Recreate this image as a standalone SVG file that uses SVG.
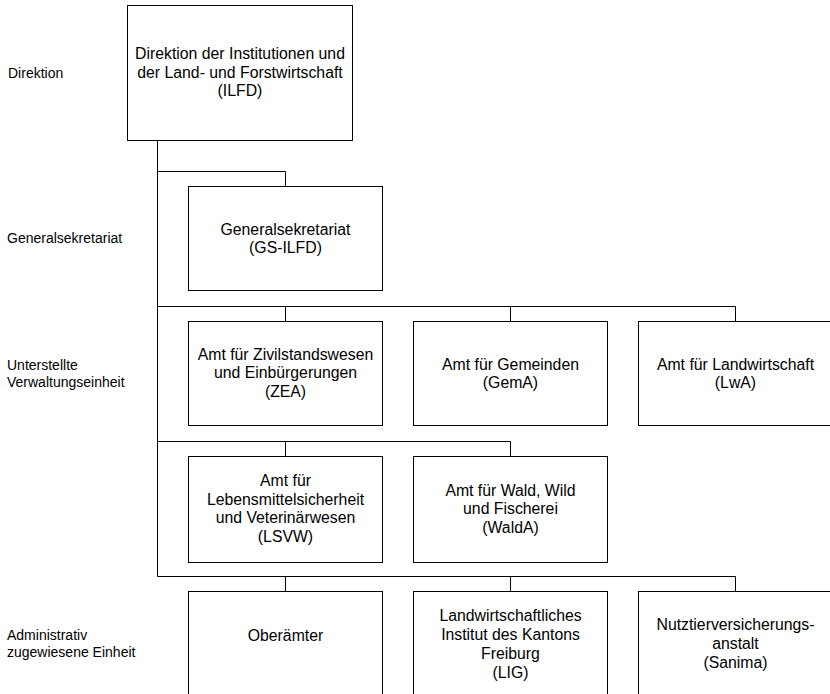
<svg xmlns="http://www.w3.org/2000/svg" width="830" height="694" viewBox="0 0 830 694">
<style>
.box{fill:#fff;stroke:#000;stroke-width:1}
.con{fill:none;stroke:#000;stroke-width:1}
.t{font-family:"Liberation Sans",Arial,sans-serif;font-size:15.8px;fill:#000;text-anchor:middle}
.lbl{font-family:"Liberation Sans",Arial,sans-serif;font-size:14px;fill:#000}
</style>
<rect width="830" height="694" fill="#fff"/>
<g id="labels">
<text class="lbl" x="8" y="78">Direktion</text>
<text class="lbl" x="7" y="243">Generalsekretariat</text>
<text class="lbl" x="7" y="370">Unterstellte</text>
<text class="lbl" x="7" y="387">Verwaltungseinheit</text>
<text class="lbl" x="7" y="640">Administrativ</text>
<text class="lbl" x="7" y="657">zugewiesene Einheit</text>
</g>
<g id="connectors">
<path class="con" d="M157.5 140.5V576.5"/>
<path class="con" d="M157.5 171.5H285.5V186.5"/>
<path class="con" d="M157.5 306.5H735.5V321.5M285.5 306.5V321.5M510.5 306.5V321.5"/>
<path class="con" d="M157.5 441.5H510.5V456.5M285.5 441.5V456.5"/>
<path class="con" d="M157.5 576.5H735.5V591.5M285.5 576.5V591.5M510.5 576.5V591.5"/>
</g>
<g id="ilfd">
<rect class="box" x="127.5" y="5.5" width="225" height="135"/>
<text class="t" x="240" y="59">Direktion der Institutionen und</text>
<text class="t" x="240" y="77.5">der Land- und Forstwirtschaft</text>
<text class="t" x="240" y="96">(ILFD)</text>
</g>
<g id="gs">
<rect class="box" x="188.5" y="186.5" width="194" height="104"/>
<text class="t" x="285.5" y="235">Generalsekretariat</text>
<text class="t" x="285.5" y="253">(GS-ILFD)</text>
</g>
<g id="zea">
<rect class="box" x="188.5" y="321.5" width="194" height="104"/>
<text class="t" x="285.5" y="359.5">Amt für Zivilstandswesen</text>
<text class="t" x="285.5" y="378">und Einbürgerungen</text>
<text class="t" x="285.5" y="396.5">(ZEA)</text>
</g>
<g id="gema">
<rect class="box" x="413.5" y="321.5" width="194" height="104"/>
<text class="t" x="510.5" y="369.5">Amt für Gemeinden</text>
<text class="t" x="510.5" y="388">(GemA)</text>
</g>
<g id="lwa">
<rect class="box" x="638.5" y="321.5" width="194" height="104"/>
<text class="t" x="735.5" y="369.5">Amt für Landwirtschaft</text>
<text class="t" x="735.5" y="388">(LwA)</text>
</g>
<g id="lsvw">
<rect class="box" x="188.5" y="456.5" width="194" height="106"/>
<text class="t" x="285.5" y="486">Amt für</text>
<text class="t" x="285.5" y="504.5">Lebensmittelsicherheit</text>
<text class="t" x="285.5" y="523">und Veterinärwesen</text>
<text class="t" x="285.5" y="541.5">(LSVW)</text>
</g>
<g id="walda">
<rect class="box" x="413.5" y="456.5" width="194" height="106"/>
<text class="t" x="510.5" y="495.5">Amt für Wald, Wild</text>
<text class="t" x="510.5" y="514">und Fischerei</text>
<text class="t" x="510.5" y="532.5">(WaldA)</text>
</g>
<g id="oberaemter">
<rect class="box" x="188.5" y="591.5" width="194" height="120"/>
<text class="t" x="285.5" y="641">Oberämter</text>
</g>
<g id="lig">
<rect class="box" x="413.5" y="591.5" width="194" height="120"/>
<text class="t" x="510.5" y="621">Landwirtschaftliches</text>
<text class="t" x="510.5" y="640">Institut des Kantons</text>
<text class="t" x="510.5" y="659">Freiburg</text>
<text class="t" x="510.5" y="678">(LIG)</text>
</g>
<g id="sanima">
<rect class="box" x="638.5" y="591.5" width="194" height="120"/>
<text class="t" x="735.5" y="630">Nutztierversicherungs-</text>
<text class="t" x="735.5" y="649">anstalt</text>
<text class="t" x="735.5" y="667.5">(Sanima)</text>
</g>
</svg>
